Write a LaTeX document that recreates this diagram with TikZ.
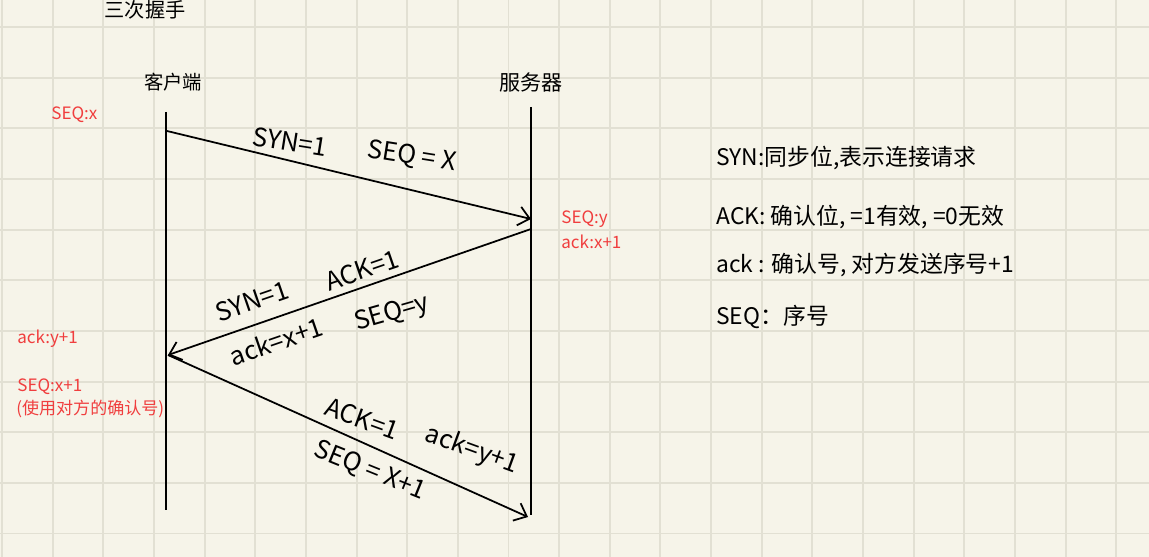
\documentclass[tikz,border=0pt]{standalone}
\usepackage{fontspec}
\setmainfont{Noto Sans CJK SC}
\usepackage{tikz}
\usetikzlibrary{arrows.meta,positioning}
\definecolor{paper}{RGB}{246,244,233}
\definecolor{gridline}{RGB}{226,224,211}
\definecolor{notered}{RGB}{240,62,62}

\begin{document}
\begin{tikzpicture}[x=0.02cm, y=-0.02cm,
    every node/.style={inner sep=0pt},
    hand/.style={font=\fontsize{14.5}{15}\selectfont},
    note/.style={font=\fontsize{9.7}{12}\selectfont, text=notered, anchor=west},
    legend/.style={font=\fontsize{13}{14}\selectfont, anchor=west},
    msg/.style={line width=1pt, -{Straight Barb[length=2.2mm, width=3.8mm]}}]
    % paper with grid
    \fill[paper] (0,0) rectangle (1149,557);
    \useasboundingbox (0,0) rectangle (1149,557);
    \foreach \i in {0,...,22}
        \draw[gridline, line width=1.1pt] ({2+50.65*\i},0) -- ({2+50.65*\i},557);
    \foreach \j in {0,...,10}
        \draw[gridline, line width=1.1pt] (0,{27+50.65*\j}) -- (1149,{27+50.65*\j});

    \node[font=\fontsize{11.5}{12}\selectfont] (title) at (145,10) {三次握手};
    \node[font=\fontsize{11}{12}\selectfont] (client) at (173,82) {客户端};
    \node[font=\fontsize{12}{13}\selectfont] (server) at (531,82) {服务器};

    % lifelines
    \coordinate (ctop) at (166,112);
    \coordinate (cbot) at (166,510);
    \coordinate (stop) at (531,107);
    \coordinate (sbot) at (531,515);
    \draw[line width=1pt] (ctop) -- (cbot);
    \draw[line width=1pt] (stop) -- (sbot);

    % messages
    \coordinate (c1) at (167,131);
    \coordinate (s1) at (531,219);
    \coordinate (s2) at (531,229);
    \coordinate (c2) at (168,355);
    \coordinate (s3) at (528,517);
    \draw[msg] (c1) -- (s1);
    \draw[msg] (s2) -- (c2);
    \draw[msg] (c2) -- (s3);

    \node[hand, rotate=-9] (syn1) at (290,142) {SYN=1};
    \node[hand, rotate=-9] (seq1) at (412,157) {SEQ = X};

    \node[hand, rotate=19] (ack2) at (362,270) {ACK=1};
    \node[hand, rotate=19] (syn2) at (252,301) {SYN=1};
    \node[hand, rotate=19] (acknum2) at (276,341) {ack=x+1};
    \node[hand, rotate=16] (seq2) at (392,314) {SEQ=y};

    \node[hand, rotate=-20] (ack3) at (362,419) {ACK=1};
    \node[hand, rotate=-20] (acknum3) at (472,450) {ack=y+1};
    \node[hand, rotate=-22] (seq3) at (370,471) {SEQ = X+1};

    % red notes
    \node[note] (cseq1) at (51,115) {SEQ:x};
    \node[note] (sseq) at (561,219) {SEQ:y};
    \node[note] (sack) at (561,242) {ack:x+1};
    \node[note] (cack) at (17,339) {ack:y+1};
    \node[note] (cseq2) at (17,387) {SEQ:x+1};
    \node[note] (cuse) at (16,409) {(使用对方的确认号)};

    % legend
    \node[legend] (lsyn) at (716,158) {SYN:同步位,表示连接请求};
    \node[legend] (lack) at (716,217) {ACK: 确认位, =1有效, =0无效};
    \node[legend] (lacknum) at (716,265) {ack : 确认号, 对方发送序号+1};
    \node[legend] (lseq) at (716,317) {SEQ：序号};
\end{tikzpicture}
\end{document}
